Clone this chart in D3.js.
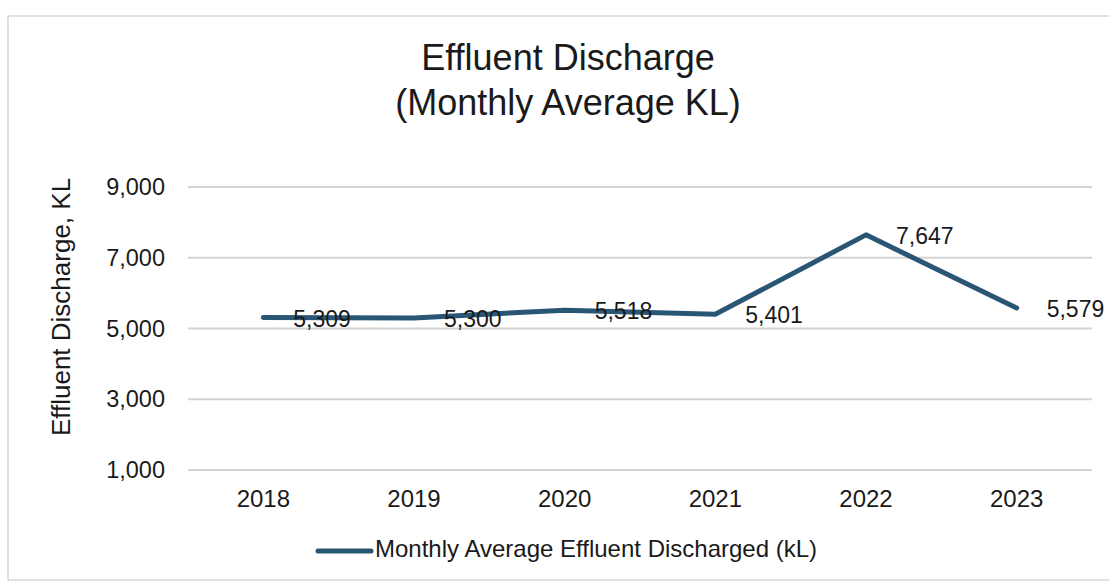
<!DOCTYPE html>
<html><head><meta charset="utf-8">
<script src="https://cdn.jsdelivr.net/npm/d3@7"></script>
<style>body{margin:0;background:#fff;}svg{display:block;font-family:"Liberation Sans",Arial,sans-serif;}</style>
</head><body><svg id="c" width="1109" height="585"></svg>
<script>
const categories = ["2018","2019","2020","2021","2022","2023"];
const values = [5309, 5300, 5518, 5401, 7647, 5579];
const yTicks = [1000, 3000, 5000, 7000, 9000];
const titleLines = ["Effluent Discharge", "(Monthly Average KL)"];
const yLabel = "Effluent Discharge, KL";
const seriesName = "Monthly Average Effluent Discharged (kL)";

const svg = d3.select("#c");
const color = "#2a5675";
const fmt = d3.format(",");

// frame
svg.append("rect").attr("x",8).attr("y",16).attr("width",1110).attr("height",564)
  .attr("fill","none").attr("stroke","#d6d6d6").attr("stroke-width",1.5);

const x = d3.scaleBand().domain(categories).range([188, 1092]);
const y = d3.scaleLinear().domain([1000, 9000]).range([470, 187]);

// title
svg.append("g").selectAll("text").data(titleLines).join("text")
  .attr("x", 568).attr("y", (d,i)=>70 + i*45).attr("text-anchor","middle")
  .attr("font-size",36).attr("fill","#1a1a1a").text(d=>d);

// gridlines
svg.append("g").selectAll("line").data(yTicks).join("line")
  .attr("x1",188).attr("x2",1092).attr("y1",d=>y(d)).attr("y2",d=>y(d))
  .attr("stroke","#d3d3d3").attr("stroke-width",1.8);

// y axis labels
const yAxis = d3.axisLeft(y).tickValues(yTicks).tickFormat(fmt).tickSize(0).tickPadding(0);
const gy = svg.append("g").attr("transform","translate(165,0)").call(yAxis);
gy.select(".domain").remove();
gy.selectAll("text").attr("font-size",23.5).attr("fill","#1a1a1a").attr("font-family","Liberation Sans, Arial, sans-serif");

// x axis labels
const xAxis = d3.axisBottom(x).tickSize(0).tickPadding(0);
const gx = svg.append("g").attr("transform","translate(0,490)").call(xAxis);
gx.select(".domain").remove();
gx.selectAll("text").attr("font-size",24).attr("fill","#1a1a1a").attr("font-family","Liberation Sans, Arial, sans-serif");

// y axis title
svg.append("text").attr("transform","translate(70,307) rotate(-90)").attr("text-anchor","middle")
  .attr("font-size",26).attr("fill","#1a1a1a").text(yLabel);

// line
const cx = d => x(d) + x.bandwidth()/2;
const line = d3.line().x((d,i)=>cx(categories[i])).y(d=>y(d));
svg.append("path").datum(values).attr("d",line).attr("fill","none")
  .attr("stroke",color).attr("stroke-width",5).attr("stroke-linejoin","round").attr("stroke-linecap","round");

// data labels
svg.append("g").selectAll("text").data(values).join("text")
  .attr("x",(d,i)=>cx(categories[i]) + 30).attr("y",d=>y(d)+3).attr("dominant-baseline","middle")
  .attr("font-size",23).attr("fill","#1a1a1a").text(d=>fmt(d));

// legend
svg.append("line").attr("x1",318).attr("x2",371).attr("y1",551).attr("y2",551)
  .attr("stroke",color).attr("stroke-width",5).attr("stroke-linecap","round");
svg.append("text").attr("x",375).attr("y",551).attr("dominant-baseline","middle")
  .attr("font-size",24).attr("fill","#1a1a1a").text(seriesName);
</script></body></html>
